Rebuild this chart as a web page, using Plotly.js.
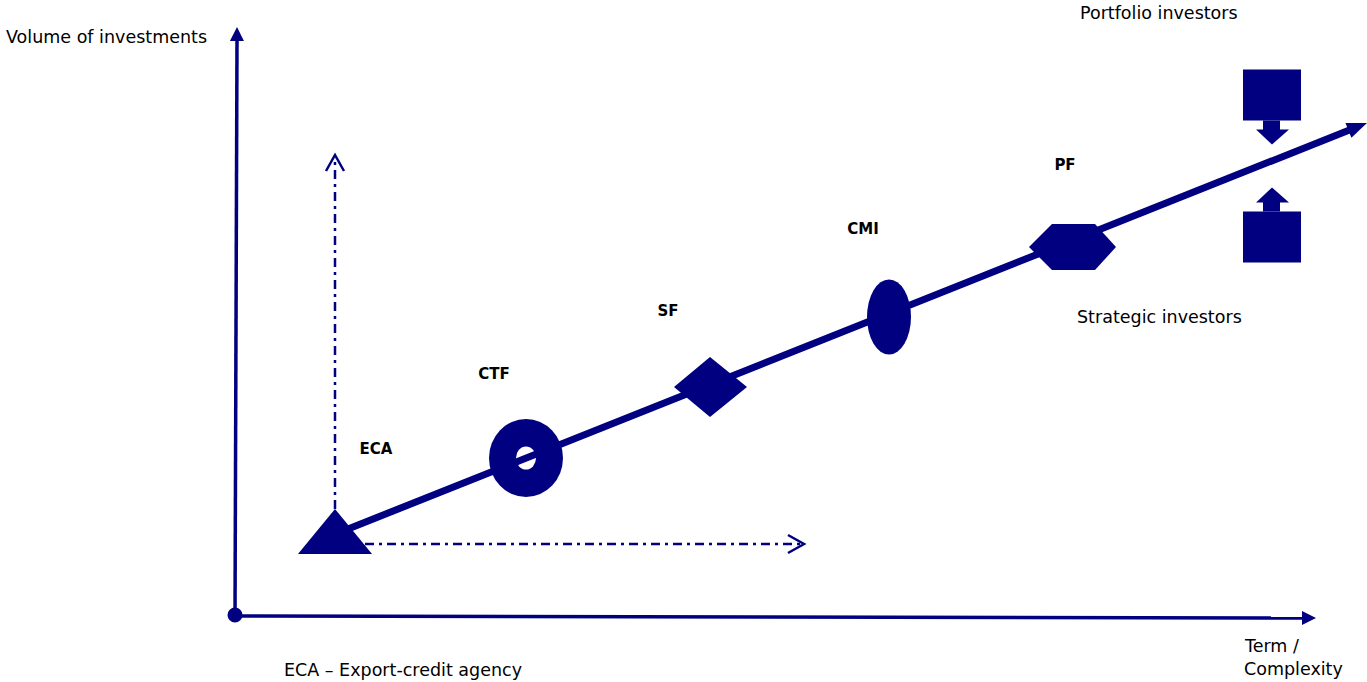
<!DOCTYPE html>
<html>
<head>
<meta charset="utf-8">
<script src="https://cdn.plot.ly/plotly-3.0.1.min.js"></script>
<style>html,body{margin:0;padding:0;background:#fff;overflow:hidden}#chart{width:1367px;height:682px}</style>
</head>
<body>
<div id="chart"></div>
<script>
// ---- data (diagram positions, x = term, y = screen-down volume) ----
const stages = ['ECA', 'CTF', 'SF', 'CMI', 'PF'];
const stageTerm = [335, 526, 710, 889, 1072];
const stageVolume = [535, 458, 387, 317, 247];
const labelTerm = [376, 494, 668, 863, 1065];
const labelVolume = [450, 375, 312, 230, 166];

const axisOrigin = [235, 616];
const yAxisTip = [237, 27];
const xAxisTip = [1316, 618];
const trendStart = [343, 531];
const trendTip = [1367, 123];
const guideUpTip = [335, 155];
const guideRightTip = [804, 544];

const investorLabels = ['Portfolio investors', 'Strategic investors'];
const investorTerm = [1159, 1159];
const investorVolume = [13, 317];
const boxTerm = [1272, 1272];
const boxVolume = [95, 237];

const NAVY = '#000080';
const FONT = 'DejaVu Sans, Verdana, sans-serif';

// ---- helpers ----
function poly(pts) { return 'M' + pts.map(p => p[0] + ',' + p[1]).join(' L') + ' Z'; }
function headShape(tip, from, len, half) {
  const dx = tip[0] - from[0], dy = tip[1] - from[1];
  const L = Math.hypot(dx, dy), ux = dx / L, uy = dy / L;
  const bx = tip[0] - ux * len, by = tip[1] - uy * len;
  return poly([tip, [bx - uy * half, by + ux * half], [bx + uy * half, by - ux * half]]);
}
function chevron(tip, from, len, half) {
  const dx = tip[0] - from[0], dy = tip[1] - from[1];
  const L = Math.hypot(dx, dy), ux = dx / L, uy = dy / L;
  const bx = tip[0] - ux * len, by = tip[1] - uy * len;
  return 'M' + (bx - uy * half) + ',' + (by + ux * half) + ' L' + tip[0] + ',' + tip[1] + ' L' + (bx + uy * half) + ',' + (by - ux * half);
}
function lineAt(x) {
  const t = (x - trendStart[0]) / (trendTip[0] - trendStart[0]);
  return trendStart[1] + t * (trendTip[1] - trendStart[1]);
}
function seg(a, b, w, dash) {
  return {type: 'line', xref: 'x', yref: 'y', x0: a[0], y0: a[1], x1: b[0], y1: b[1],
    line: {color: NAVY, width: w, dash: dash || 'solid'}};
}
function fillPath(path, color) {
  return {type: 'path', xref: 'x', yref: 'y', path: path, fillcolor: color || NAVY, line: {width: 0}};
}
function ellipse(cx, cy, rx, ry, color) {
  return {type: 'circle', xref: 'x', yref: 'y', x0: cx - rx, x1: cx + rx, y0: cy - ry, y1: cy + ry,
    fillcolor: color || NAVY, line: {width: 0}};
}

const shapes = [];
// axes
shapes.push(seg(axisOrigin, [yAxisTip[0], yAxisTip[1] + 12], 3.5));
shapes.push(fillPath(headShape(yAxisTip, axisOrigin, 14, 7)));
shapes.push(seg(axisOrigin, [xAxisTip[0] - 13, xAxisTip[1]], 3.5));
shapes.push(fillPath(headShape(xAxisTip, axisOrigin, 14, 7)));
shapes.push(ellipse(axisOrigin[0], axisOrigin[1] - 1, 7.5, 7.5));

// dash-dot guides from ECA
const eca = [stageTerm[0], stageVolume[0]];
shapes.push(seg([eca[0], eca[1] - 26], [guideUpTip[0], guideUpTip[1] + 2], 2.5, '9px,5px,3px,5px'));
shapes.push({type: 'path', xref: 'x', yref: 'y', path: chevron(guideUpTip, [guideUpTip[0], 500], 16, 9), line: {color: NAVY, width: 2.5}});
shapes.push(seg([eca[0] + 30, guideRightTip[1]], [guideRightTip[0] - 2, guideRightTip[1]], 2.5, '9px,5px,3px,5px'));
shapes.push({type: 'path', xref: 'x', yref: 'y', path: chevron(guideRightTip, [400, guideRightTip[1]], 16, 9), line: {color: NAVY, width: 2.5}});

// main trend line
const headBase = [trendTip[0] - 15, lineAt(trendTip[0] - 15)];
shapes.push(seg(trendStart, headBase, 7));
shapes.push(fillPath(headShape(trendTip, trendStart, 20, 8)));

// ECA triangle
shapes.push(fillPath(poly([[eca[0] - 37, eca[1] + 19], [eca[0] + 37, eca[1] + 19], [eca[0], eca[1] - 26]])));
// CTF donut (line visible through hole)
const ctf = [stageTerm[1], stageVolume[1]];
shapes.push(ellipse(ctf[0], ctf[1], 37, 39));
shapes.push(ellipse(ctf[0], ctf[1], 10, 11.5, '#ffffff'));
shapes.push(seg([ctf[0] - 11, lineAt(ctf[0] - 11)], [ctf[0] + 11, lineAt(ctf[0] + 11)], 7));
// SF diamond
const sf = [stageTerm[2], stageVolume[2]];
shapes.push(fillPath(poly([[sf[0] - 36, sf[1]], [sf[0], sf[1] - 30], [sf[0] + 37, sf[1]], [sf[0], sf[1] + 30]])));
// CMI ellipse
const cmi = [stageTerm[3], stageVolume[3]];
shapes.push(ellipse(cmi[0], cmi[1], 22, 37.5));
// PF hexagon
const pf = [stageTerm[4], stageVolume[4]];
shapes.push(fillPath(poly([[pf[0] - 43, pf[1]], [pf[0] - 20, pf[1] - 23], [pf[0] + 23, pf[1] - 23],
  [pf[0] + 44, pf[1]], [pf[0] + 23, pf[1] + 23], [pf[0] - 20, pf[1] + 23]])));

// investor boxes with arrows toward the trend line
function box(cx, cy, dir) {
  // dir = +1 arrow points down (box above), -1 arrow points up (box below)
  const out = [];
  out.push({type: 'rect', xref: 'x', yref: 'y', x0: cx - 29, x1: cx + 29, y0: cy - 25.5, y1: cy + 25.5, fillcolor: NAVY, line: {width: 0}});
  const edge = cy + dir * 25.5;
  out.push({type: 'rect', xref: 'x', yref: 'y', x0: cx - 9, x1: cx + 8, y0: edge, y1: edge + dir * 10, fillcolor: NAVY, line: {width: 0}});
  const hb = edge + dir * 9;
  out.push(fillPath(poly([[cx - 16, hb], [cx + 17, hb], [cx, hb + dir * 15]])));
  return out;
}
box(boxTerm[0], boxVolume[0], 1).forEach(s => shapes.push(s));
box(boxTerm[1], boxVolume[1], -1).forEach(s => shapes.push(s));

shapes.forEach(s => { s.layer = 'above'; });

const annotations = [];
function txt(text, x, y, size, xanchor, weight) {
  annotations.push({text: text, x: x, y: y, xref: 'x', yref: 'y', showarrow: false,
    xanchor: xanchor || 'center', yanchor: 'middle',
    font: {family: FONT, size: size, color: '#000000', weight: weight || 'normal'}});
}
txt('Volume of investments', 4, 37, 17.5, 'left');
investorLabels.forEach((t, i) => txt(t, investorTerm[i], investorVolume[i], 17.5, 'center'));
txt('Term /', 1242, 646, 17.5, 'left');
txt('Complexity', 1242, 669, 17.5, 'left');
txt('ECA – Export-credit agency', 282, 670, 17.5, 'left');

const traces = [{
  type: 'scatter', mode: 'text', x: labelTerm, y: labelVolume, text: stages,
  textposition: 'middle center', hoverinfo: 'skip', showlegend: false,
  textfont: {family: FONT, size: 15, color: '#000000', weight: 'bold'}
}];

const layout = {
  width: 1367, height: 682,
  margin: {l: 0, r: 0, t: 0, b: 0, pad: 0},
  paper_bgcolor: '#ffffff', plot_bgcolor: '#ffffff',
  showlegend: false,
  xaxis: {range: [0, 1367], visible: false, fixedrange: true},
  yaxis: {range: [682, 0], visible: false, fixedrange: true},
  shapes: shapes,
  annotations: annotations
};

Plotly.newPlot('chart', traces, layout, {staticPlot: true, displayModeBar: false});
</script>
</body>
</html>
